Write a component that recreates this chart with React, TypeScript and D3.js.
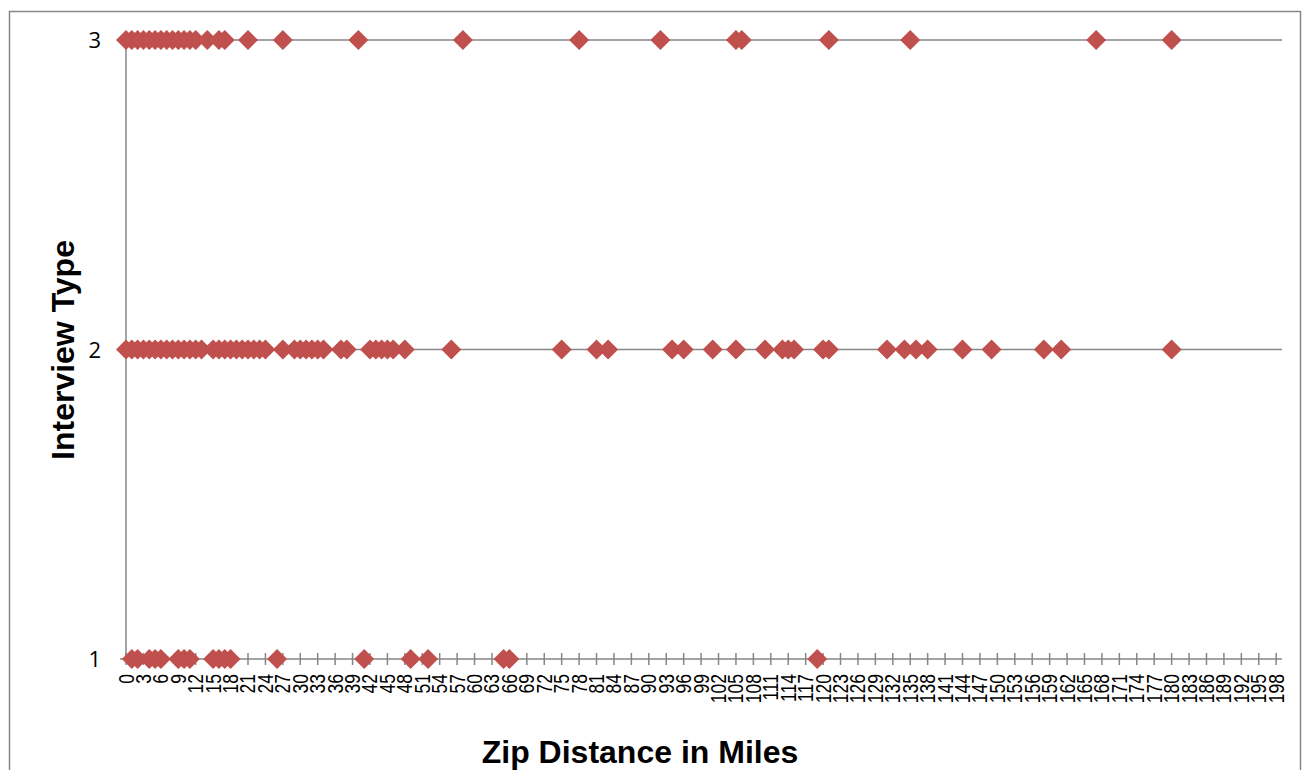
import { useEffect, useRef } from "react";
import * as d3 from "d3";

// zip distance (miles) for each interview type
const type1: number[] = [1, 2, 4, 5, 6, 9, 10, 11, 15, 16, 17, 18, 26, 41, 49, 52, 65, 66, 119];
const type2: number[] = [
    0, 1, 2, 3, 4, 5, 6, 7, 8, 9, 10, 11, 12, 13, 15, 16, 17, 18, 19, 20, 21, 22, 23, 24,
    27, 29, 30, 31, 32, 33, 34, 37, 38, 42, 43, 44, 45, 46, 48, 56, 75, 81, 83, 94, 96,
    101, 105, 110, 113, 114, 115, 120, 121, 131, 134, 136, 138, 144, 149, 158, 161, 180,
];
const type3: number[] = [
    0, 1, 2, 3, 4, 5, 6, 7, 8, 9, 10, 11, 12, 14, 16, 17, 21, 27, 40, 58, 78, 92, 105, 106,
    121, 135, 167, 180,
];
const yTicks = [1, 2, 3];
const xTicks = d3.range(0, 199, 3);

const App = () => {
    const svgRef = useRef<SVGSVGElement>(null);

    useEffect(() => {
        const svg = d3.select(svgRef.current);
        svg.selectAll("*").remove();

        const left = 126, right = 1282, top = 40, bottom = 659;
        const x = d3.scaleLinear().domain([0, 199]).range([left, right]);
        const y = d3.scaleLinear().domain([1, 3]).range([bottom, top]);
        const grey = "#868686";
        const font = "'Liberation Sans', Arial, sans-serif";

        // chart border
        svg.append("rect")
            .attr("x", 9.5).attr("y", 11.5)
            .attr("width", 1291).attr("height", 800)
            .attr("fill", "white").attr("stroke", grey).attr("stroke-width", 1.5);

        // gridlines
        svg.append("g")
            .selectAll("line")
            .data(yTicks.slice(1))
            .enter()
            .append("line")
            .attr("x1", left).attr("x2", right)
            .attr("y1", (d) => y(d)).attr("y2", (d) => y(d))
            .attr("stroke", grey).attr("stroke-width", 1.5);

        // axis lines
        svg.append("line")
            .attr("x1", left).attr("x2", right).attr("y1", bottom).attr("y2", bottom)
            .attr("stroke", grey).attr("stroke-width", 1.5);
        svg.append("line")
            .attr("x1", left).attr("x2", left).attr("y1", top).attr("y2", bottom)
            .attr("stroke", grey).attr("stroke-width", 1.5);

        // x tick marks (cross)
        svg.append("g")
            .selectAll("line")
            .data(xTicks)
            .enter()
            .append("line")
            .attr("x1", (d) => x(d)).attr("x2", (d) => x(d))
            .attr("y1", bottom - 6).attr("y2", bottom + 6)
            .attr("stroke", grey).attr("stroke-width", 1.5);

        // y tick marks
        svg.append("g")
            .selectAll("line")
            .data(yTicks)
            .enter()
            .append("line")
            .attr("x1", left - 6).attr("x2", left + 6)
            .attr("y1", (d) => y(d)).attr("y2", (d) => y(d))
            .attr("stroke", grey).attr("stroke-width", 1.5);

        // x tick labels, rotated
        svg.append("g")
            .selectAll("text")
            .data(xTicks)
            .enter()
            .append("text")
            .attr("transform", (d) => `translate(${x(d) + 7.5},674) rotate(-90) scale(1,1.3)`)
            .attr("text-anchor", "end")
            .style("font-family", font)
            .style("font-size", "17.5px")
            .text((d) => d);

        // y tick labels
        svg.append("g")
            .selectAll("text")
            .data(yTicks)
            .enter()
            .append("text")
            .attr("x", 101)
            .attr("y", (d) => y(d) + 8)
            .attr("text-anchor", "end")
            .style("font-family", "'Open Sans', 'Liberation Sans', sans-serif")
            .style("font-size", "22px")
            .text((d) => d);

        // axis titles
        svg.append("text")
            .attr("transform", `translate(74,350) rotate(-90)`)
            .attr("text-anchor", "middle")
            .style("font-family", font)
            .style("font-size", "32px")
            .style("font-weight", "bold")
            .text("Interview Type");

        svg.append("text")
            .attr("x", 640)
            .attr("y", 763)
            .attr("text-anchor", "middle")
            .style("font-family", font)
            .style("font-size", "32px")
            .style("font-weight", "bold")
            .text("Zip Distance in Miles");

        // markers
        const points = [
            ...type1.map((v) => ({ v, t: 1 })),
            ...type2.map((v) => ({ v, t: 2 })),
            ...type3.map((v) => ({ v, t: 3 })),
        ];
        const diamond = d3.symbol().type(d3.symbolDiamond2).size(255);
        svg.append("g")
            .selectAll("path")
            .data(points)
            .enter()
            .append("path")
            .attr("d", diamond)
            .attr("transform", (d) => `translate(${x(d.v)},${y(d.t)})`)
            .attr("fill", "#C0504D");
    }, []);

    return (
        <svg
            ref={svgRef}
            width={1303}
            height={770}
            style={{ position: "absolute", left: 0, top: 0, background: "white" }}
        />
    );
};

export default App;
